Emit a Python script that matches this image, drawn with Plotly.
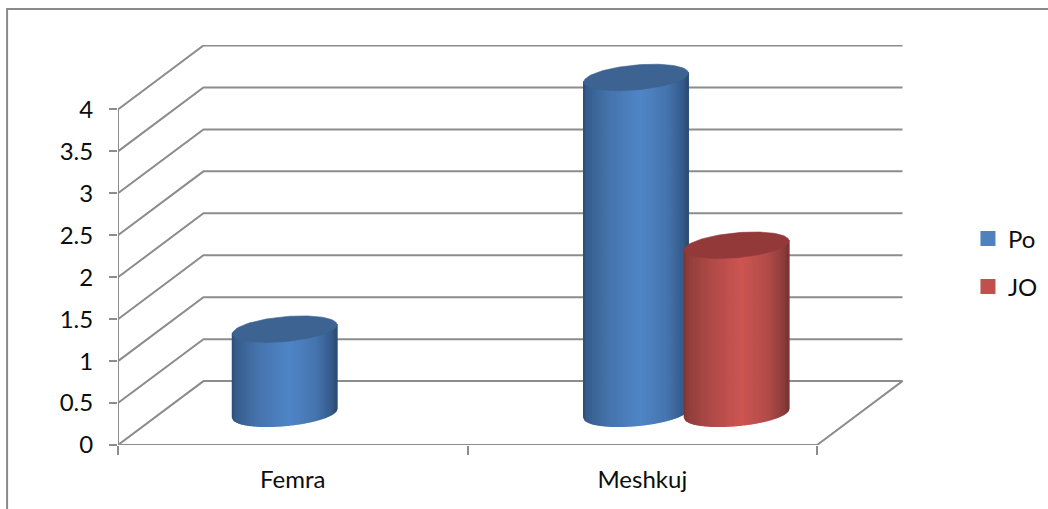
import numpy as np
import plotly.graph_objects as go

# ---- data ----
categories = ["Femra", "Meshkuj"]
series_names = ["Po", "JO"]
po_values = [1, 4]
jo_values = [0, 2]
y_ticks = [0, 0.5, 1, 1.5, 2, 2.5, 3, 3.5, 4]
y_tick_labels = ["0", "0.5", "1", "1.5", "2", "2.5", "3", "3.5", "4"]

# ---- layout ----
W, H = 1048, 509
PX0, PX1 = 117.5, 903.0   # plot left / right
PY0, PY1 = 445.0, 44.5    # value 0 / plot top
XU = 349.75               # pixels per category
YU = 84.0                 # pixels per value unit
DX = 85.5 / XU            # depth shift of the back wall
DY = 64.0 / YU
GRID = "#8c8c8c"
TEXT = "#0d0d0d"
FONT = "Lato"

BAR_HALF = 52.3 / XU
CATEGORY_SHIFT = [0.477, 1.482]   # first bar of each category
SERIES_SHIFT = [0, 0.288]         # second series sits one bar to the right
CAP_B = 12.5 / YU         # vertical half axis of the caps
CAP_K = 4.5 / YU          # tilt of the caps

body_stops = [0, 0.03, 0.25, 0.55, 0.8, 0.96, 1]
body_colors = {
    "Po": ["#2b4c74", "#355c8c", "#4674ad", "#5085c8", "#4675ae", "#345a89", "#2c4a70"],
    "JO": ["#7b3432", "#8e3d3b", "#ae4a47", "#cd5552", "#b34c49", "#8a3c3a", "#773331"],
}
cap_colors = {"Po": "#3c6391", "JO": "#93393a"}
legend_colors = {"Po": "#4f81bd", "JO": "#c0504d"}


def shade(name, u):
    rgb = [[int(c[i:i + 2], 16) for i in (1, 3, 5)] for c in body_colors[name]]
    vals = [np.interp(u, body_stops, [r[j] for r in rgb]) for j in range(3)]
    return "rgb(%d,%d,%d)" % tuple(round(v) for v in vals)


def arc_low(u, base):
    return base + CAP_K * u - CAP_B * np.sqrt(np.clip(1 - u * u, 0, 1))


fig = go.Figure()

# walls and floor
gx, gy = [], []
for v in y_ticks[1:]:
    gx += [0, DX, 2 + DX, None]
    gy += [v, v + DY, v + DY, None]
gx += [0, 2, 2 + DX, DX, 0, None, 0, 0]
gy += [0, 0, DY, DY, 0, None, 0, y_ticks[-1]]
fig.add_trace(go.Scatter(x=gx, y=gy, mode="lines", line=dict(color=GRID, width=2),
                         cliponaxis=False, showlegend=False, hoverinfo="skip"))


def cylinder(name, center, value):
    base = DY / 2
    top = base + value
    n = 70
    edges = np.linspace(-1, 1, n + 1)
    for a, b in zip(edges[:-1], edges[1:]):
        xs, ys = [], []
        sub = np.linspace(a, b, 3)
        for u in sub:
            xs.append(center + u * BAR_HALF)
            ys.append(arc_low(u, base))
        for u in sub[::-1]:
            xs.append(center + u * BAR_HALF)
            ys.append(top + CAP_K * u)
        xs.append(xs[0])
        ys.append(ys[0])
        col = shade(name, (a + b + 2) / 4)
        fig.add_trace(go.Scatter(x=xs, y=ys, mode="lines", fill="toself", fillcolor=col,
                                 line=dict(color=col, width=1.4), cliponaxis=False,
                                 showlegend=False, hoverinfo="skip"))
    t = np.linspace(0, 2 * np.pi, 121)
    fig.add_trace(go.Scatter(x=center + BAR_HALF * np.cos(t),
                             y=top + CAP_K * np.cos(t) + CAP_B * np.sin(t),
                             mode="lines", fill="toself", fillcolor=cap_colors[name],
                             line=dict(color=cap_colors[name], width=0.6), cliponaxis=False,
                             showlegend=False, hoverinfo="skip"))


for i, cat in enumerate(categories):
    for s, (name, vals) in enumerate(zip(series_names, [po_values, jo_values])):
        if vals[i] > 0:
            cylinder(name, CATEGORY_SHIFT[i] + SERIES_SHIFT[s], vals[i])

# legend entries
for name in series_names:
    fig.add_trace(go.Scatter(x=[None], y=[None], mode="markers", name=name, legendgroup=name,
                             marker=dict(symbol="square", size=15, color=legend_colors[name])))

fig.update_layout(
    width=W, height=H, autosize=False,
    margin=dict(l=PX0, r=W - PX1, t=PY1, b=H - PY0, autoexpand=False),
    paper_bgcolor="white", plot_bgcolor="white",
    font=dict(family=FONT, size=24, color=TEXT),
    xaxis=dict(range=[0, (PX1 - PX0) / XU], tickmode="array", tickvals=[0.5, 1.5],
               ticktext=categories, ticks="", showgrid=False, zeroline=False, showline=False,
               ticklabelstandoff=18, fixedrange=True,
               minor=dict(tickmode="array", tickvals=[0, 1, 2], ticks="outside", ticklen=9,
                          tickwidth=2, tickcolor=GRID, showgrid=False)),
    yaxis=dict(range=[0, (PY0 - PY1) / YU], tickmode="array", tickvals=y_ticks,
               ticktext=y_tick_labels, ticks="outside", ticklen=8, tickwidth=2, tickcolor=GRID,
               showgrid=False, zeroline=False, showline=False, ticklabelstandoff=11,
               fixedrange=True),
    legend=dict(x=(968 - PX0) / (PX1 - PX0), y=(PY0 - 216) / (PY0 - PY1), xref="paper",
                yref="paper", xanchor="left", yanchor="top", tracegroupgap=14,
                bgcolor="rgba(0,0,0,0)", borderwidth=0,
                font=dict(family=FONT, size=24, color=TEXT)),
    shapes=[dict(type="rect", xref="paper", yref="paper", layer="below",
                 x0=(6.5 - PX0) / (PX1 - PX0), x1=(1070 - PX0) / (PX1 - PX0),
                 y0=(PY0 - 530) / (PY0 - PY1), y1=(PY0 - 8.5) / (PY0 - PY1),
                 line=dict(color="#8a8a8a", width=2), fillcolor="rgba(0,0,0,0)")],
)

fig.write_html("out.html", config={"displayModeBar": False},
               post_script="document.body.style.margin='0';document.documentElement.style.overflow='hidden';")
